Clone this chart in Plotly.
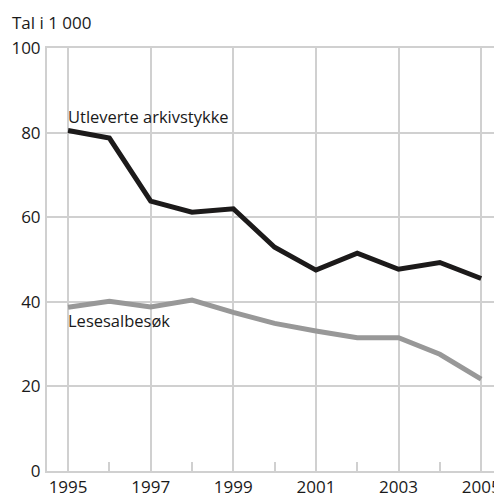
import plotly.graph_objects as go

years = [1995, 1996, 1997, 1998, 1999, 2000, 2001, 2002, 2003, 2004, 2005]
utleverte = [80.5, 78.7, 63.8, 61.2, 62.0, 52.9, 47.5, 51.5, 47.7, 49.3, 45.5]
lesesal = [38.7, 40.1, 38.8, 40.4, 37.5, 34.9, 33.1, 31.5, 31.5, 27.6, 21.7]
x_ticks = [1995, 1997, 1999, 2001, 2003, 2005]
y_ticks = [0, 20, 40, 60, 80, 100]

GRID = "#d0d0d0"
FONT = "Open Sans"
TXT = "#1a1a1a"

fig = go.Figure()
fig.add_trace(go.Scatter(x=years, y=lesesal, mode="lines",
                         line=dict(color="#989898", width=5), hoverinfo="skip"))
fig.add_trace(go.Scatter(x=years, y=utleverte, mode="lines",
                         line=dict(color="#1c1a1a", width=5), hoverinfo="skip"))

fig.add_annotation(x=1995, y=utleverte[0], text="Utleverte arkivstykke", showarrow=False,
                   xanchor="left", yanchor="bottom", yshift=0, xshift=-2,
                   font=dict(family=FONT, size=16.5, color=TXT))
fig.add_annotation(x=1995, y=lesesal[0], text="Lesesalbesøk", showarrow=False,
                   xanchor="left", yanchor="top", yshift=0, xshift=-2,
                   font=dict(family=FONT, size=16.5, color=TXT))
fig.add_annotation(xref="paper", yref="paper", x=0, y=1, text="Tal i 1 000",
                   showarrow=False, xanchor="left", yanchor="bottom",
                   xshift=-37, yshift=12,
                   font=dict(family=FONT, size=17, color=TXT))

fig.update_layout(
    width=494, height=489,
    margin=dict(l=39, r=1, t=40, b=26, pad=0),
    paper_bgcolor="white", plot_bgcolor="white",
    showlegend=False,
    font=dict(family=FONT, size=17, color=TXT),
)
fig.update_xaxes(range=[1994.49, 2005.48], tickmode="array", tickvals=x_ticks,
                 ticktext=[str(v) for v in x_ticks],
                 showgrid=True, gridcolor=GRID, gridwidth=2,
                 showline=True, linecolor=GRID, linewidth=2, mirror=True,
                 ticks="outside", ticklen=0, tickcolor="rgba(0,0,0,0)",
                 minor=dict(tickmode="array", tickvals=[1996, 1998, 2000, 2002, 2004],
                            ticks="inside", ticklen=9, tickcolor=GRID, tickwidth=2,
                            showgrid=False),
                 zeroline=False, fixedrange=True, automargin=False)
fig.update_yaxes(range=[0, 100], tickmode="array", tickvals=y_ticks,
                 ticktext=[str(v) for v in y_ticks],
                 showgrid=True, gridcolor=GRID, gridwidth=2,
                 showline=True, linecolor=GRID, linewidth=2, mirror=True,
                 ticks="outside", ticklen=1, tickcolor="rgba(0,0,0,0)",
                 zeroline=False, fixedrange=True, automargin=False)

fig.write_html("out.html", config={"displayModeBar": False})
